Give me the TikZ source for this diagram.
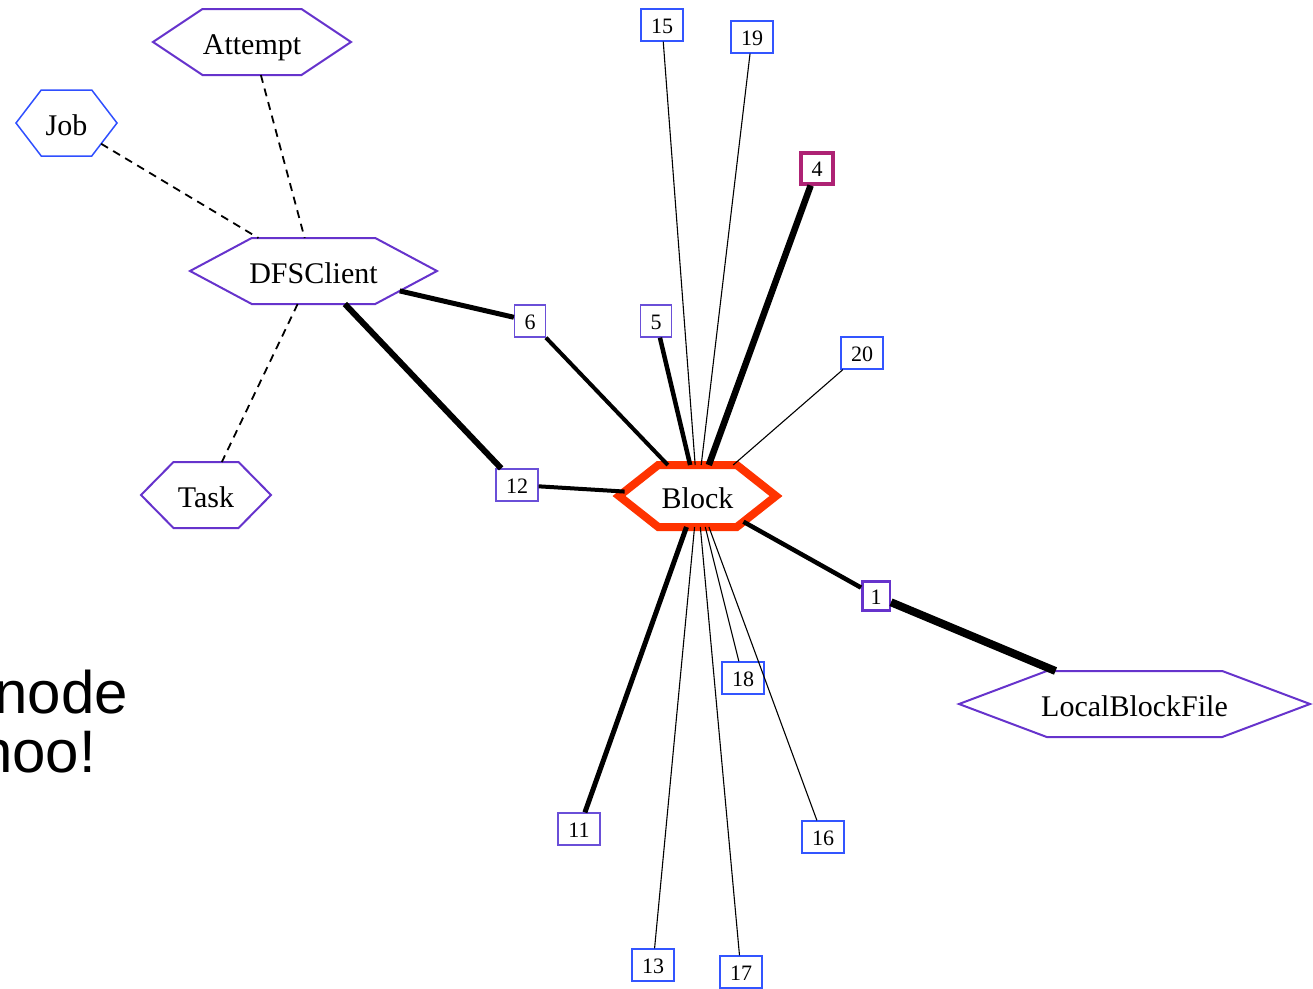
\documentclass[tikz,border=0pt]{standalone}
\usepackage{fontspec}
\setmainfont{Liberation Serif}
\newfontfamily\bigsans{Liberation Sans}

% A hexagon node: pointed left and right ends, flat top and bottom,
% each slanted side a quarter of the width.
\makeatletter
\pgfdeclareshape{hexabox}{%
  \inheritsavedanchors[from=rectangle]%
  \inheritanchor[from=rectangle]{center}%
  \inheritanchor[from=rectangle]{north}%
  \inheritanchor[from=rectangle]{south}%
  \inheritanchor[from=rectangle]{east}%
  \inheritanchor[from=rectangle]{west}%
  \backgroundpath{%
    \southwest\edef\hx@l{\the\pgf@x}\edef\hx@b{\the\pgf@y}%
    \northeast\edef\hx@r{\the\pgf@x}\edef\hx@t{\the\pgf@y}%
    \pgfmathsetlengthmacro\hx@q{(\hx@r-\hx@l)/4}%
    \pgfmathsetlengthmacro\hx@m{(\hx@t+\hx@b)/2}%
    \pgfmathsetlengthmacro\hx@il{\hx@l+\hx@q}%
    \pgfmathsetlengthmacro\hx@ir{\hx@r-\hx@q}%
    \pgfpathmoveto{\pgfpoint{\hx@l}{\hx@m}}%
    \pgfpathlineto{\pgfpoint{\hx@il}{\hx@t}}%
    \pgfpathlineto{\pgfpoint{\hx@ir}{\hx@t}}%
    \pgfpathlineto{\pgfpoint{\hx@r}{\hx@m}}%
    \pgfpathlineto{\pgfpoint{\hx@ir}{\hx@b}}%
    \pgfpathlineto{\pgfpoint{\hx@il}{\hx@b}}%
    \pgfpathclose
  }%
  \anchorborder{%
    \edef\hx@dx{\the\pgf@x}\edef\hx@dy{\the\pgf@y}%
    \southwest\edef\hx@l{\the\pgf@x}\edef\hx@b{\the\pgf@y}%
    \northeast\edef\hx@r{\the\pgf@x}\edef\hx@t{\the\pgf@y}%
    \pgfmathsetmacro\hx@a{(\hx@r-\hx@l)/2}%
    \pgfmathsetmacro\hx@h{(\hx@t-\hx@b)/2}%
    \pgfmathsetmacro\hx@ax{abs(\hx@dx)}%
    \pgfmathsetmacro\hx@ay{abs(\hx@dy)}%
    \pgfmathsetmacro\hx@s{\hx@ax/\hx@a+\hx@ay/(2*\hx@h)}%
    \pgfmathsetmacro\hx@k{1/max(\hx@s,\hx@ay/\hx@h,0.0001)}%
    \pgfmathsetlengthmacro\hx@px{(\hx@l+\hx@r)/2+\hx@k*\hx@dx}%
    \pgfmathsetlengthmacro\hx@py{(\hx@t+\hx@b)/2+\hx@k*\hx@dy}%
    \pgf@x=\hx@px\relax
    \pgf@y=\hx@py\relax
  }%
}
\makeatother

\definecolor{hexpurple}{HTML}{6633CC}
\definecolor{jobblue}{HTML}{2F4FFF}
\definecolor{boxblue}{HTML}{3355FF}
\definecolor{boxpurple}{HTML}{6A4FD8}
\definecolor{hotmagenta}{HTML}{AE2274}
\definecolor{blockred}{HTML}{FF3300}

\begin{document}
\begin{tikzpicture}[x=1pt,y=-1pt,
  hex/.style={shape=hexabox, draw=hexpurple, line width=2pt, inner sep=0pt,
    outer sep=0pt, minimum height=66pt, text height=25pt, text depth=0pt,
    font=\fontsize{30}{36}\selectfont},
  numbox/.style={rectangle, draw=boxblue, line width=1.3pt, inner sep=0pt,
    minimum width=42pt, minimum height=32pt, text height=17pt, text depth=0pt,
    font=\fontsize{22}{26}\selectfont},
  onedigit/.style={minimum width=31pt},
  purplebox/.style={draw=boxpurple},
  thinlink/.style={line width=1.1pt},
  dashlink/.style={line width=1.8pt, dash pattern=on 8pt off 6pt},
  wlink/.style={line width=#1},
  bigword/.style={font=\bigsans\fontsize{60}{60}\selectfont, inner sep=0pt, anchor=base east}
]
\useasboundingbox (0,0) rectangle (1313,988);

% caption words running off the left edge
\node[bigword] (capa) at (128,713) {node};
\node[bigword] (capb) at (96,772) {hoo!};

% hexagon nodes
\node[hex, minimum width=198pt] (attempt) at (252,42) {Attempt};
\node[hex, draw=jobblue, line width=1.5pt, minimum width=101pt] (job) at (66.5,123) {Job};
\node[hex, minimum width=247pt] (dfs) at (313.5,271) {DFSClient};
\node[hex, minimum width=130pt] (task) at (206,495) {Task};
\node[hex, draw=blockred, line width=8pt, minimum width=157pt, minimum height=62pt] (block) at (697.5,496) {Block};
\node[hex, minimum width=351pt] (lbf) at (1134.5,704) {LocalBlockFile};

% numbered boxes
\node[numbox] (n15) at (662,25) {15};
\node[numbox] (n19) at (752,37) {19};
\node[numbox, onedigit, draw=hotmagenta, line width=4pt, minimum width=32pt, minimum height=31pt] (n4) at (817,168) {4};
\node[numbox, onedigit, purplebox] (n6) at (530,321) {6};
\node[numbox, onedigit, purplebox] (n5) at (656,321) {5};
\node[numbox] (n20) at (862,353) {20};
\node[numbox, purplebox] (n12) at (517,485) {12};
\node[numbox, onedigit, draw=hexpurple, line width=2.5pt, minimum width=27.5pt, minimum height=29pt] (n1) at (876,596) {1};
\node[numbox] (n18) at (743,678) {18};
\node[numbox, purplebox] (n11) at (579,829) {11};
\node[numbox] (n16) at (823,837) {16};
\node[numbox] (n13) at (653,965) {13};
\node[numbox] (n17) at (741,972) {17};

% dashed links around DFSClient
\draw[dashlink] (attempt) -- (dfs);
\draw[dashlink] (job) -- (dfs);
\draw[dashlink] (dfs) -- (task);

% weighted links
\draw[wlink=5pt] (dfs) -- (n6);
\draw[wlink=4pt] (n6) -- (block);
\draw[wlink=6pt] (dfs) -- (n12);
\draw[wlink=4pt] (n12) -- (block);
\draw[wlink=4.5pt] (n5) -- (block);
\draw[wlink=6.5pt] (n4) -- (block);
\draw[wlink=4.5pt] (block) -- (n1);
\draw[wlink=8pt] (n1) -- (lbf);
\draw[wlink=5pt] (block) -- (n11);

% thin links
\draw[thinlink] (n15) -- (block);
\draw[thinlink] (n19) -- (block);
\draw[thinlink] (n20) -- (block);
\draw[thinlink] (block) -- (n18);
\draw[thinlink] (block) -- (n16);
\draw[thinlink] (block) -- (n13);
\draw[thinlink] (block) -- (n17);
\end{tikzpicture}
\end{document}
